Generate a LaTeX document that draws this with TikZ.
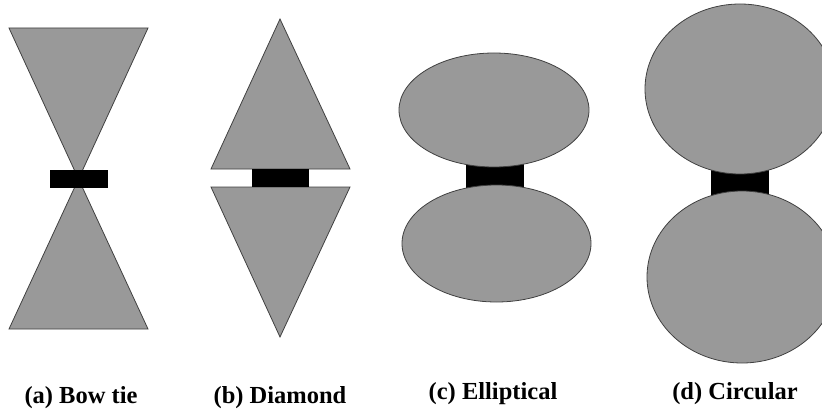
\documentclass[tikz,border=0pt]{standalone}
\usepackage{fontspec}
\setmainfont{Liberation Serif}
\begin{document}
\begin{tikzpicture}[x=1pt,y=-1pt,
  patch/.style={fill=patchgray,draw=black!75,line width=0.8pt},
  feed/.style={fill=black,draw=none},
  caption/.style={anchor=base,font=\fontsize{24.5}{28}\selectfont\bfseries,inner sep=0pt}]
\definecolor{patchgray}{RGB}{153,153,153}
\useasboundingbox (0,0) rectangle (822,412);
\clip (0,0) rectangle (822,412);
% (a) bow tie
\draw[patch] (9,28) -- (148,28) -- (78.5,179) -- cycle;
\draw[patch] (9,329) -- (148,329) -- (78.5,179) -- cycle;
\fill[feed] (50,170) rectangle (108,188);
% (b) diamond
\draw[patch] (211,169) -- (350,169) -- (280,19) -- cycle;
\draw[patch] (211,187) -- (350,187) -- (280,337) -- cycle;
\fill[feed] (252,169) rectangle (309,187);
% (c) elliptical
\fill[feed] (466,160) rectangle (524,192);
\draw[patch] (494,110) ellipse [x radius=95, y radius=57];
\draw[patch] (496.5,243.5) ellipse [x radius=94.5, y radius=58.5];
% (d) circular
\fill[feed] (711,165) rectangle (769,198);
\draw[patch] (740,89) ellipse [x radius=95, y radius=85];
\draw[patch] (742,277) ellipse [x radius=95, y radius=86];
% captions
\node[caption] (capa) at (81,403) {(a) Bow tie};
\node[caption] (capb) at (280,403) {(b) Diamond};
\node[caption] (capc) at (493,399) {(c) Elliptical};
\node[caption] (capd) at (735,399) {(d) Circular};
\end{tikzpicture}
\end{document}
